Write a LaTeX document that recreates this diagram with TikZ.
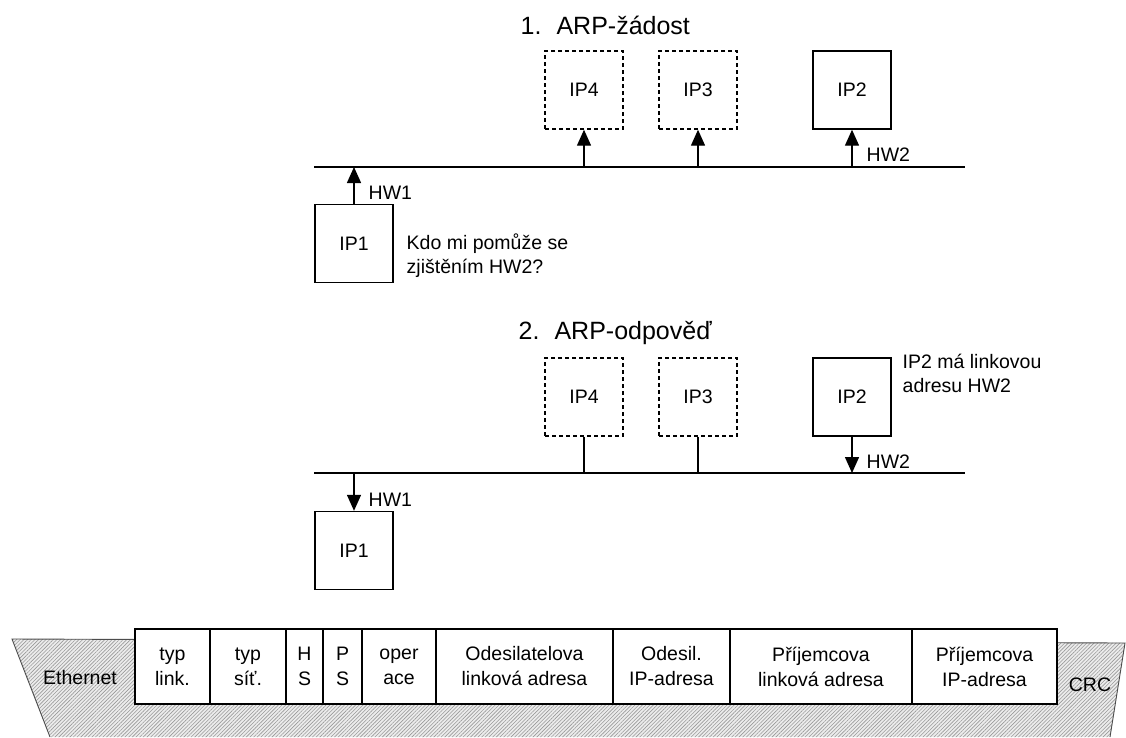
\documentclass[tikz,border=0pt]{standalone}
\usepackage{fontspec}
\setmainfont{Liberation Sans}
\usetikzlibrary{arrows.meta, positioning, patterns.meta}

\begin{document}
\begin{tikzpicture}[x=1pt, y=-1pt, line width=1.4pt,
    host/.style={draw, minimum width=78pt, minimum height=78pt, inner sep=0pt, font=\fontsize{19.5}{24}\selectfont},
    other/.style={host, dash pattern=on 4pt off 3pt},
    lbl/.style={inner sep=0pt, anchor=west, align=left, font=\fontsize{19.5}{24}\selectfont},
    ttl/.style={inner sep=0pt, anchor=west, font=\fontsize{25}{28}\selectfont},
    arr/.style={-{Triangle[length=16pt, width=14pt]}},
    cell/.style={draw, fill=white, line width=1.1pt, outer sep=0pt, inner sep=0pt, minimum height=75pt, align=center, font=\fontsize{19.5}{25}\selectfont}]
        \useasboundingbox (0,0) rectangle (1126,737);

        % 1. request
        \node[ttl] (t1) at (520,25) {1.\hspace{15pt}ARP-žádost};
        \node[other] (ip4a) at (584,90) {IP4};
        \node[other] (ip3a) at (698,90) {IP3};
        \node[host] (ip2a) at (852,90) {IP2};
        \node[host] (ip1a) at (354,243.5) {IP1};
        \coordinate (busAL) at (314,167);
        \coordinate (busAR) at (965,167);
        \draw (busAL) -- (busAR);
        \draw[arr] (ip1a.north) -- (ip1a.north |- busAL);
        \foreach \h in {ip4a, ip3a, ip2a}
            \draw[arr] (\h.south |- busAL) -- (\h.south);
        \node[lbl] (hw1a) at (368,193) {HW1};
        \node[lbl] (hw2a) at (866,155) {HW2};
        \node[lbl] (ask) at (406,256) {Kdo mi pomůže se\\zjištěním HW2?};

        % 2. reply
        \node[ttl] (t2) at (518,333) {2.\hspace{15pt}ARP-odpověď};
        \node[other] (ip4b) at (584,397) {IP4};
        \node[other] (ip3b) at (698,397) {IP3};
        \node[host] (ip2b) at (852,397) {IP2};
        \node[host] (ip1b) at (354,550.5) {IP1};
        \coordinate (busBL) at (314,473);
        \coordinate (busBR) at (965,473);
        \draw (busBL) -- (busBR);
        \draw[arr] (ip1b.north |- busBL) -- (ip1b.north);
        \draw[arr] (ip2b.south) -- (ip2b.south |- busBL);
        \draw (ip4b.south) -- (ip4b.south |- busBL);
        \draw (ip3b.south) -- (ip3b.south |- busBL);
        \node[lbl] (hw1b) at (368,500) {HW1};
        \node[lbl] (hw2b) at (866,462) {HW2};
        \node[lbl] (ans) at (902,373) {IP2 má linkovou\\adresu HW2};

        % ARP packet in an Ethernet frame
        \fill[gray!15] (12,639) -- (1125,643) -- (1110,737) -- (50,737) -- cycle;
        \path[pattern={Lines[angle=45, distance=2.6pt, line width=0.6pt]}, pattern color=gray!80]
            (12,639) -- (1125,643) -- (1110,737) -- (50,737) -- cycle;
        \draw[gray!60!black, line width=0.9pt] (50,737) -- (12,639) -- (1125,643) -- (1110,737);
        \node[cell, minimum width=75pt, anchor=west] (cLink) at (135,666.5) {typ\\link.};
        \node[cell, minimum width=76pt, right=0pt of cLink] (cNet) {typ\\síť.};
        \node[cell, minimum width=37pt, right=0pt of cNet] (cHs) {H\\S};
        \node[cell, minimum width=39pt, right=0pt of cHs] (cPs) {P\\S};
        \node[cell, minimum width=74pt, right=0pt of cPs] (cOp) {oper\\ace};
        \node[cell, minimum width=177pt, right=0pt of cOp] (cSha) {Odesilatelova\\linková adresa};
        \node[cell, minimum width=117pt, right=0pt of cSha] (cSpa) {Odesil.\\IP-adresa};
        \node[cell, minimum width=182pt, right=0pt of cSpa] (cTha) {Příjemcova\\linková adresa};
        \node[cell, minimum width=145pt, right=0pt of cTha] (cTpa) {Příjemcova\\IP-adresa};
        \node[font=\fontsize{19.5}{24}\selectfont] (eth) at (80,678) {Ethernet};
        \node[font=\fontsize{19.5}{24}\selectfont] (crc) at (1090,685) {CRC};
    \end{tikzpicture}
\end{document}
